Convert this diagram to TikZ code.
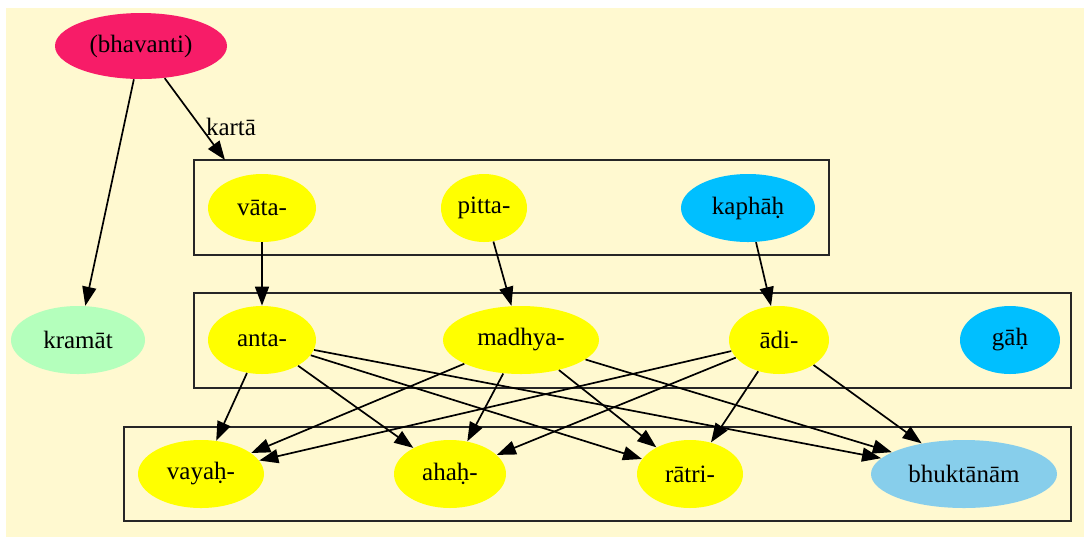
\documentclass[tikz,border=0pt]{standalone}
\usepackage{fontspec}
\setmainfont{Liberation Serif}
\usetikzlibrary{shapes.geometric,arrows.meta}
\definecolor{chiffon}{RGB}{255,249,208}
\definecolor{rosered}{RGB}{247,28,104}
\definecolor{mint}{RGB}{180,255,188}
\definecolor{deepsky}{RGB}{0,191,255}
\definecolor{sky}{RGB}{135,206,235}
\definecolor{pureyellow}{RGB}{255,255,0}
\tikzset{every node/.style={font=\fontsize{12.5}{14}\selectfont},
  word/.style={ellipse, fill=pureyellow, inner sep=0pt, minimum height=34pt},
  arr/.style={line width=0.85pt, -{Triangle[length=9.5pt,width=7pt]}},
  cluster/.style={draw=black!85, line width=0.85pt}}

\begin{document}
\begin{tikzpicture}[x=0.5pt,y=-0.5pt]
   \useasboundingbox (0,0) rectangle (1088,538);
   \fill[chiffon] (6,8) rectangle (1084,537);
   \draw[cluster] (194,160) rectangle (829,255);
   \draw[cluster] (194,293) rectangle (1071,388);
   \draw[cluster] (124,427) rectangle (1071,521);

   \node[word, fill=rosered, minimum width=86pt, minimum height=33pt] (bhavanti) at (141,46) {(bhavanti)};
   \node[word, fill=mint, minimum width=67pt] (kramat) at (78,340) {kramāt};

   \node[word, minimum width=54pt] (vata)  at (262,208) {vāta-};
   \node[word, minimum width=43pt] (pitta) at (484,208) {pitta-};
   \node[word, fill=deepsky, minimum width=67pt] (kaphah) at (748,208) {kaphāḥ};

   \node[word, minimum width=54pt] (anta)   at (262,340) {anta-};
   \node[word, minimum width=78pt] (madhya) at (521,340) {madhya-};
   \node[word, minimum width=50pt] (adi)    at (779,340) {ādi-};
   \node[word, fill=deepsky, minimum width=50pt] (gah) at (1010,340) {gāḥ};

   \node[word, minimum width=63pt] (vayah) at (201,474) {vayaḥ-};
   \node[word, minimum width=56pt] (ahah)  at (450,474) {ahaḥ-};
   \node[word, minimum width=53pt] (ratri) at (690,474) {rātri-};
   \node[word, fill=sky, minimum width=93pt] (bhuktanam) at (964,474) {bhuktānām};

   \coordinate (clutop) at (225,160);
   \draw[arr] (bhavanti) -- (kramat);
   \draw[arr] (bhavanti) -- (clutop);
   \node (karta) at (231,127) {kartā};

   \draw[arr] (vata) -- (anta);
   \draw[arr] (pitta) -- (madhya);
   \draw[arr] (kaphah) -- (adi);
   \foreach \s in {anta,madhya,adi}
     \foreach \t in {vayah,ahah,ratri,bhuktanam}
       \draw[arr] (\s) -- (\t);
\end{tikzpicture}
\end{document}
